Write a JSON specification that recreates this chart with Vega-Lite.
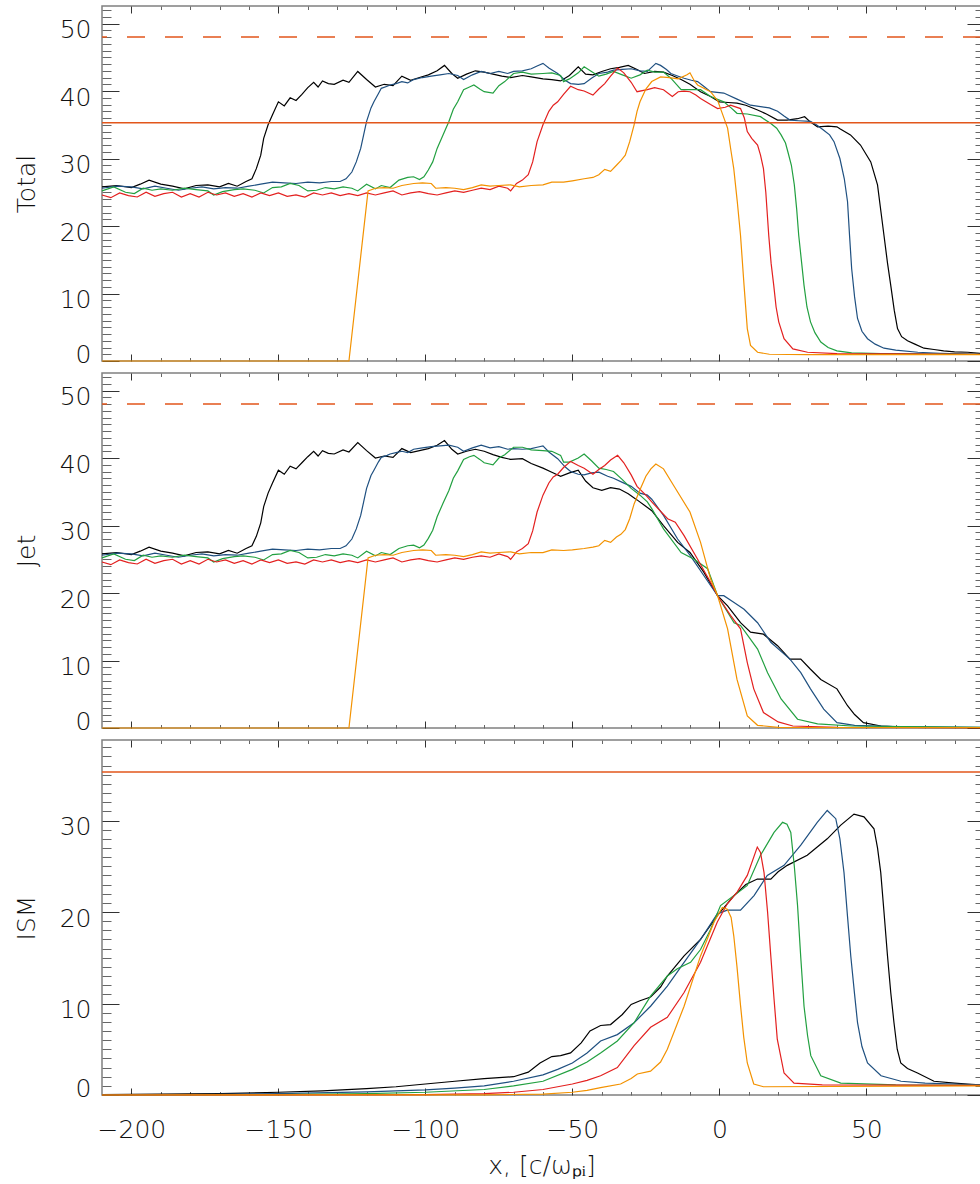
{
"$schema":"https://vega.github.io/schema/vega-lite/v6.json",
"padding":{"left":13,"top":4,"right":0,"bottom":0},
"spacing":12,
"bounds":"flush",
"config":{
 "font":"DejaVu Sans",
 "view":{"stroke":"#808080","strokeWidth":1.5},
 "axis":{"domain":false,"grid":false,"tickColor":"#333333","tickWidth":1,"labelFont":"DejaVu Sans","labelFontSize":25,"labelFontWeight":200,"labelColor":"#111111","titleFont":"DejaVu Sans","titleFontSize":25,"titleFontWeight":200,"titleColor":"#111111"}
},
"datasets":{
"tot_k":[{"x":-210,"y":25.8},{"x":-205,"y":26.0},{"x":-200,"y":25.7},{"x":-197,"y":26.2},{"x":-194,"y":26.8},{"x":-190,"y":26.2},{"x":-186,"y":25.9},{"x":-182,"y":25.5},{"x":-178,"y":26.0},{"x":-174,"y":26.1},{"x":-170,"y":25.8},{"x":-167,"y":26.3},{"x":-164,"y":25.9},{"x":-161,"y":26.6},{"x":-159,"y":27.0},{"x":-157.5,"y":28.5},{"x":-156,"y":30.5},{"x":-155,"y":33.0},{"x":-153.5,"y":35.0},{"x":-152,"y":36.5},{"x":-150,"y":38.4},{"x":-148,"y":37.8},{"x":-146,"y":39.0},{"x":-144,"y":38.6},{"x":-142,"y":39.5},{"x":-140,"y":40.5},{"x":-138,"y":41.3},{"x":-136.5,"y":40.6},{"x":-135,"y":41.5},{"x":-133,"y":41.1},{"x":-131,"y":41.0},{"x":-128,"y":41.6},{"x":-126,"y":41.3},{"x":-123,"y":42.9},{"x":-120,"y":41.7},{"x":-117,"y":40.6},{"x":-114,"y":41.0},{"x":-111,"y":40.8},{"x":-108,"y":42.2},{"x":-105,"y":41.6},{"x":-102,"y":42.0},{"x":-99,"y":42.4},{"x":-96,"y":43.0},{"x":-93.5,"y":43.8},{"x":-91,"y":42.6},{"x":-89,"y":41.9},{"x":-86,"y":42.5},{"x":-83,"y":43.0},{"x":-80,"y":42.8},{"x":-77,"y":42.5},{"x":-74,"y":42.2},{"x":-71,"y":42.0},{"x":-67,"y":42.3},{"x":-64,"y":42.1},{"x":-60,"y":41.8},{"x":-57,"y":41.7},{"x":-54,"y":41.5},{"x":-51,"y":42.3},{"x":-48,"y":43.6},{"x":-45.5,"y":42.5},{"x":-43,"y":42.4},{"x":-40,"y":42.9},{"x":-37,"y":43.3},{"x":-34,"y":43.5},{"x":-31,"y":43.8},{"x":-28,"y":43.2},{"x":-25.5,"y":42.6},{"x":-22,"y":42.9},{"x":-19,"y":42.8},{"x":-16,"y":42.3},{"x":-13,"y":41.7},{"x":-10,"y":41.0},{"x":-6.4,"y":39.9},{"x":-3,"y":39.2},{"x":0,"y":38.4},{"x":3,"y":38.3},{"x":6,"y":38.2},{"x":9,"y":37.9},{"x":13,"y":37.2},{"x":16,"y":36.6},{"x":19.8,"y":35.7},{"x":23,"y":35.7},{"x":26.6,"y":35.9},{"x":29,"y":36.2},{"x":31,"y":35.4},{"x":33.4,"y":34.7},{"x":37,"y":34.8},{"x":40,"y":34.7},{"x":41,"y":34.4},{"x":44.6,"y":33.5},{"x":48,"y":32.0},{"x":51.5,"y":29.5},{"x":53.8,"y":26.1},{"x":55,"y":22.0},{"x":56,"y":18.6},{"x":57.2,"y":14.5},{"x":58.3,"y":11.2},{"x":59.5,"y":7.5},{"x":60.6,"y":4.8},{"x":62,"y":3.6},{"x":64,"y":3.0},{"x":66.5,"y":2.5},{"x":69.6,"y":1.9},{"x":73,"y":1.7},{"x":76.3,"y":1.5},{"x":80,"y":1.35},{"x":84.5,"y":1.3},{"x":89,"y":1.1}],
"tot_b":[{"x":-210,"y":25.6},{"x":-205,"y":25.9},{"x":-200,"y":25.8},{"x":-196,"y":25.5},{"x":-192,"y":25.9},{"x":-188,"y":25.6},{"x":-184,"y":25.3},{"x":-180,"y":25.6},{"x":-176,"y":25.8},{"x":-172,"y":25.5},{"x":-168,"y":25.7},{"x":-164,"y":25.6},{"x":-160,"y":25.9},{"x":-156,"y":26.2},{"x":-152,"y":26.5},{"x":-148,"y":26.4},{"x":-144,"y":26.3},{"x":-140,"y":26.5},{"x":-136,"y":26.4},{"x":-132,"y":26.6},{"x":-129,"y":26.6},{"x":-127,"y":27.0},{"x":-125,"y":28.0},{"x":-123.5,"y":29.5},{"x":-122,"y":31.5},{"x":-121,"y":33.5},{"x":-120,"y":35.5},{"x":-118.5,"y":37.5},{"x":-117.5,"y":38.4},{"x":-116,"y":39.6},{"x":-115,"y":40.4},{"x":-113,"y":40.7},{"x":-112,"y":40.9},{"x":-110,"y":41.1},{"x":-108,"y":41.4},{"x":-106,"y":41.2},{"x":-104,"y":41.7},{"x":-101,"y":42.0},{"x":-98,"y":42.2},{"x":-95,"y":42.4},{"x":-92,"y":42.6},{"x":-89,"y":42.3},{"x":-87,"y":41.7},{"x":-84,"y":42.4},{"x":-81,"y":42.9},{"x":-78,"y":42.6},{"x":-75,"y":42.9},{"x":-72,"y":42.6},{"x":-70,"y":42.9},{"x":-67,"y":43.0},{"x":-64,"y":43.3},{"x":-62,"y":43.7},{"x":-60,"y":44.1},{"x":-58,"y":43.4},{"x":-55,"y":42.6},{"x":-52.5,"y":41.6},{"x":-50.6,"y":41.1},{"x":-48,"y":41.0},{"x":-46,"y":41.1},{"x":-43.5,"y":41.9},{"x":-41,"y":42.6},{"x":-38,"y":42.8},{"x":-36,"y":43.1},{"x":-33,"y":43.2},{"x":-30,"y":43.3},{"x":-27,"y":43.0},{"x":-24.5,"y":42.9},{"x":-21.6,"y":44.1},{"x":-20,"y":43.8},{"x":-18,"y":43.2},{"x":-16.5,"y":42.6},{"x":-14,"y":42.2},{"x":-12,"y":41.9},{"x":-9.5,"y":41.6},{"x":-7.4,"y":41.4},{"x":-5,"y":40.6},{"x":-3,"y":39.9},{"x":1.5,"y":39.7},{"x":6,"y":38.8},{"x":10.6,"y":37.9},{"x":14,"y":37.7},{"x":17,"y":37.5},{"x":19.8,"y":37.0},{"x":22,"y":36.3},{"x":24,"y":35.7},{"x":27,"y":35.6},{"x":31,"y":35.5},{"x":33,"y":35.0},{"x":35.5,"y":34.2},{"x":37.5,"y":33.5},{"x":39,"y":32.5},{"x":41,"y":30.0},{"x":42.5,"y":27.0},{"x":43.6,"y":23.6},{"x":44.3,"y":18.5},{"x":45,"y":13.7},{"x":46,"y":9.5},{"x":47,"y":6.3},{"x":48.5,"y":4.4},{"x":50.4,"y":3.3},{"x":53,"y":2.5},{"x":56,"y":1.9},{"x":60,"y":1.6},{"x":67.5,"y":1.3},{"x":75,"y":1.15},{"x":89,"y":1.0}],
"tot_g":[{"x":-210,"y":25.2},{"x":-206,"y":25.8},{"x":-202,"y":25.0},{"x":-199,"y":24.8},{"x":-196,"y":25.6},{"x":-193,"y":25.3},{"x":-190,"y":25.5},{"x":-186,"y":25.3},{"x":-182,"y":25.6},{"x":-178,"y":25.4},{"x":-174,"y":25.2},{"x":-172,"y":24.6},{"x":-169,"y":25.1},{"x":-165,"y":25.4},{"x":-162,"y":25.5},{"x":-158,"y":25.3},{"x":-155,"y":24.9},{"x":-152,"y":25.7},{"x":-149,"y":25.8},{"x":-146,"y":26.3},{"x":-143,"y":26.0},{"x":-140,"y":25.2},{"x":-137,"y":25.3},{"x":-134,"y":25.7},{"x":-131,"y":25.5},{"x":-128,"y":25.8},{"x":-125,"y":25.6},{"x":-123,"y":25.2},{"x":-120,"y":26.2},{"x":-117,"y":25.5},{"x":-115,"y":26.0},{"x":-112,"y":25.7},{"x":-109,"y":26.8},{"x":-106,"y":27.2},{"x":-104,"y":27.3},{"x":-102,"y":26.9},{"x":-100.5,"y":27.3},{"x":-99,"y":28.3},{"x":-97.5,"y":29.5},{"x":-96,"y":31.5},{"x":-94,"y":33.5},{"x":-92,"y":35.5},{"x":-90.5,"y":37.3},{"x":-89,"y":38.4},{"x":-87,"y":40.2},{"x":-85,"y":40.6},{"x":-83.5,"y":40.9},{"x":-81.5,"y":40.3},{"x":-80,"y":39.9},{"x":-77,"y":39.7},{"x":-75,"y":40.8},{"x":-73,"y":41.4},{"x":-70,"y":42.6},{"x":-67,"y":42.8},{"x":-64,"y":42.5},{"x":-60,"y":42.6},{"x":-57,"y":42.7},{"x":-54,"y":42.3},{"x":-53,"y":41.4},{"x":-51,"y":41.8},{"x":-48,"y":42.7},{"x":-46,"y":43.6},{"x":-43.5,"y":42.9},{"x":-41,"y":42.2},{"x":-38.5,"y":42.5},{"x":-36,"y":42.9},{"x":-33,"y":42.4},{"x":-30,"y":41.9},{"x":-27,"y":42.4},{"x":-24.5,"y":43.1},{"x":-22,"y":42.8},{"x":-19,"y":42.8},{"x":-16.5,"y":41.9},{"x":-13,"y":40.2},{"x":-10,"y":40.2},{"x":-6.4,"y":40.2},{"x":-3,"y":39.2},{"x":1.5,"y":38.4},{"x":4,"y":37.5},{"x":6,"y":36.7},{"x":9.5,"y":36.6},{"x":14,"y":36.2},{"x":17.5,"y":35.2},{"x":19.5,"y":34.5},{"x":21,"y":33.5},{"x":22.5,"y":32.3},{"x":23.3,"y":31.0},{"x":24.5,"y":29.0},{"x":25.5,"y":26.1},{"x":26.3,"y":22.5},{"x":27,"y":18.6},{"x":28,"y":14.5},{"x":28.8,"y":11.2},{"x":29.8,"y":8.0},{"x":31,"y":5.8},{"x":32.5,"y":4.2},{"x":34.5,"y":2.8},{"x":37,"y":2.0},{"x":40,"y":1.5},{"x":45,"y":1.2},{"x":55,"y":1.1},{"x":70,"y":1.05},{"x":89,"y":1.0}],
"tot_r":[{"x":-210,"y":24.6},{"x":-207,"y":24.2},{"x":-204,"y":24.9},{"x":-201,"y":24.5},{"x":-198,"y":24.3},{"x":-195,"y":25.0},{"x":-192,"y":24.4},{"x":-189,"y":24.8},{"x":-186,"y":25.0},{"x":-183,"y":24.3},{"x":-180,"y":24.8},{"x":-177,"y":24.3},{"x":-174,"y":25.0},{"x":-171,"y":24.6},{"x":-168,"y":24.9},{"x":-165,"y":24.4},{"x":-162,"y":24.8},{"x":-159,"y":24.3},{"x":-156,"y":24.9},{"x":-153,"y":24.5},{"x":-150,"y":24.9},{"x":-147,"y":24.4},{"x":-144,"y":24.6},{"x":-141,"y":24.3},{"x":-138,"y":24.9},{"x":-135,"y":24.6},{"x":-132,"y":24.9},{"x":-129,"y":24.5},{"x":-126,"y":24.8},{"x":-123,"y":24.5},{"x":-120,"y":24.9},{"x":-117,"y":24.6},{"x":-114,"y":24.9},{"x":-111,"y":25.2},{"x":-108,"y":24.6},{"x":-105,"y":24.9},{"x":-102,"y":25.1},{"x":-99,"y":24.8},{"x":-96,"y":24.6},{"x":-93,"y":24.9},{"x":-90,"y":25.2},{"x":-87,"y":25.0},{"x":-84,"y":25.3},{"x":-81,"y":25.6},{"x":-78,"y":25.4},{"x":-75,"y":25.9},{"x":-72,"y":25.6},{"x":-71,"y":25.2},{"x":-69,"y":26.3},{"x":-67,"y":26.8},{"x":-65,"y":27.6},{"x":-63.5,"y":29.5},{"x":-62,"y":32.5},{"x":-60,"y":35.0},{"x":-58,"y":37.0},{"x":-56.5,"y":37.9},{"x":-55,"y":38.4},{"x":-53,"y":39.5},{"x":-50.6,"y":40.7},{"x":-48,"y":40.2},{"x":-46,"y":40.0},{"x":-43,"y":39.4},{"x":-41,"y":40.3},{"x":-39,"y":41.1},{"x":-37,"y":42.2},{"x":-34.6,"y":43.4},{"x":-32.5,"y":42.7},{"x":-30,"y":41.3},{"x":-28,"y":39.9},{"x":-24.5,"y":40.2},{"x":-22,"y":40.5},{"x":-19,"y":40.2},{"x":-16,"y":39.2},{"x":-14,"y":39.9},{"x":-12,"y":40.0},{"x":-10,"y":39.9},{"x":-8,"y":39.4},{"x":-6.4,"y":38.9},{"x":-3,"y":38.0},{"x":-0.6,"y":37.4},{"x":2,"y":37.6},{"x":3.8,"y":37.9},{"x":7.2,"y":37.4},{"x":8.5,"y":36.0},{"x":9.5,"y":34.0},{"x":11,"y":33.0},{"x":13,"y":32.0},{"x":14,"y":30.5},{"x":15,"y":28.5},{"x":15.8,"y":25.0},{"x":16.8,"y":18.6},{"x":17.6,"y":14.5},{"x":18.5,"y":11.2},{"x":19.3,"y":8.0},{"x":20.2,"y":5.8},{"x":22,"y":3.3},{"x":25,"y":1.8},{"x":30,"y":1.3},{"x":40,"y":1.1},{"x":60,"y":1.05},{"x":89,"y":1.0}],
"tot_o":[{"x":-210,"y":0},{"x":-126,"y":0},{"x":-119.5,"y":25.2},{"x":-117,"y":25.6},{"x":-114,"y":25.7},{"x":-111,"y":25.6},{"x":-108,"y":26.0},{"x":-104,"y":26.3},{"x":-101,"y":26.4},{"x":-98,"y":26.3},{"x":-96.5,"y":25.6},{"x":-93,"y":25.7},{"x":-90,"y":25.6},{"x":-87,"y":25.4},{"x":-84,"y":25.7},{"x":-81,"y":26.1},{"x":-78,"y":25.9},{"x":-75,"y":26.0},{"x":-71,"y":26.1},{"x":-68,"y":25.8},{"x":-64,"y":26.0},{"x":-60,"y":26.1},{"x":-57,"y":26.5},{"x":-53,"y":26.5},{"x":-50,"y":26.7},{"x":-46,"y":27.0},{"x":-43,"y":27.2},{"x":-41,"y":27.6},{"x":-39,"y":28.4},{"x":-37,"y":28.1},{"x":-35,"y":29.0},{"x":-33.5,"y":29.7},{"x":-32,"y":30.5},{"x":-30.5,"y":32.5},{"x":-29,"y":35.0},{"x":-28,"y":37.0},{"x":-27,"y":38.4},{"x":-25,"y":40.3},{"x":-23,"y":41.4},{"x":-20,"y":42.1},{"x":-17,"y":42.0},{"x":-14,"y":41.8},{"x":-11,"y":42.4},{"x":-10,"y":42.7},{"x":-8.5,"y":41.5},{"x":-7.4,"y":40.9},{"x":-3,"y":39.9},{"x":-0.5,"y":38.5},{"x":0.4,"y":37.4},{"x":2.8,"y":34.5},{"x":4,"y":31.0},{"x":4.9,"y":28.5},{"x":6.1,"y":23.6},{"x":7.2,"y":18.6},{"x":8.4,"y":11.2},{"x":9.5,"y":4.8},{"x":10.6,"y":2.3},{"x":13,"y":1.3},{"x":17,"y":1.0},{"x":30,"y":0.95},{"x":60,"y":0.95},{"x":89,"y":0.95}],
"jet_k":[{"x":-210,"y":25.8},{"x":-205,"y":26.0},{"x":-200,"y":25.7},{"x":-197,"y":26.2},{"x":-194,"y":26.8},{"x":-190,"y":26.2},{"x":-186,"y":25.9},{"x":-182,"y":25.5},{"x":-178,"y":26.0},{"x":-174,"y":26.1},{"x":-170,"y":25.8},{"x":-167,"y":26.3},{"x":-164,"y":25.9},{"x":-161,"y":26.6},{"x":-159,"y":27.0},{"x":-157.5,"y":28.4},{"x":-156,"y":30.4},{"x":-155,"y":32.8},{"x":-153.5,"y":34.8},{"x":-152,"y":36.3},{"x":-150,"y":38.2},{"x":-148,"y":37.6},{"x":-146,"y":38.8},{"x":-144,"y":38.4},{"x":-142,"y":39.3},{"x":-140,"y":40.2},{"x":-138,"y":41.0},{"x":-136.5,"y":40.3},{"x":-135,"y":41.1},{"x":-133,"y":40.7},{"x":-131,"y":40.6},{"x":-128,"y":41.2},{"x":-126,"y":40.9},{"x":-123,"y":42.3},{"x":-120,"y":41.1},{"x":-117,"y":40.0},{"x":-114,"y":40.3},{"x":-111,"y":40.1},{"x":-108,"y":41.4},{"x":-105,"y":40.8},{"x":-102,"y":41.1},{"x":-99,"y":41.4},{"x":-96,"y":41.9},{"x":-93.5,"y":42.6},{"x":-91,"y":41.3},{"x":-89,"y":40.6},{"x":-86,"y":41.0},{"x":-83,"y":41.3},{"x":-80,"y":41.0},{"x":-77,"y":40.5},{"x":-74,"y":40.1},{"x":-71,"y":39.8},{"x":-67,"y":39.9},{"x":-64,"y":39.2},{"x":-60,"y":38.5},{"x":-57,"y":37.9},{"x":-54,"y":37.3},{"x":-51,"y":37.8},{"x":-48,"y":38.2},{"x":-45.5,"y":36.6},{"x":-43,"y":35.6},{"x":-40,"y":35.2},{"x":-37,"y":35.6},{"x":-34,"y":35.4},{"x":-31,"y":34.7},{"x":-28,"y":33.8},{"x":-25.5,"y":33.0},{"x":-23,"y":32.2},{"x":-19,"y":30.0},{"x":-14.2,"y":27.5},{"x":-10,"y":26.0},{"x":-5.3,"y":23.1},{"x":-0.6,"y":19.6},{"x":2.8,"y":18.1},{"x":7.2,"y":15.6},{"x":10.6,"y":14.2},{"x":15,"y":13.9},{"x":19.8,"y":12.2},{"x":24,"y":10.2},{"x":27.7,"y":10.2},{"x":31,"y":8.7},{"x":34.5,"y":7.2},{"x":40,"y":5.8},{"x":43.6,"y":3.3},{"x":46,"y":2.0},{"x":49,"y":0.8},{"x":55,"y":0.3},{"x":65,"y":0.1},{"x":89,"y":0.05}],
"jet_b":[{"x":-210,"y":25.6},{"x":-205,"y":25.9},{"x":-200,"y":25.8},{"x":-196,"y":25.5},{"x":-192,"y":25.9},{"x":-188,"y":25.6},{"x":-184,"y":25.3},{"x":-180,"y":25.6},{"x":-176,"y":25.8},{"x":-172,"y":25.5},{"x":-168,"y":25.7},{"x":-164,"y":25.6},{"x":-160,"y":25.9},{"x":-156,"y":26.2},{"x":-152,"y":26.5},{"x":-148,"y":26.4},{"x":-144,"y":26.3},{"x":-140,"y":26.5},{"x":-136,"y":26.4},{"x":-132,"y":26.6},{"x":-129,"y":26.6},{"x":-127,"y":27.0},{"x":-125,"y":28.0},{"x":-123.5,"y":29.5},{"x":-122,"y":31.5},{"x":-121,"y":33.5},{"x":-120,"y":35.5},{"x":-118.5,"y":37.4},{"x":-117.5,"y":38.2},{"x":-116,"y":39.4},{"x":-115,"y":40.1},{"x":-113,"y":40.4},{"x":-112,"y":40.6},{"x":-110,"y":40.8},{"x":-108,"y":41.0},{"x":-106,"y":40.8},{"x":-104,"y":41.3},{"x":-101,"y":41.5},{"x":-98,"y":41.7},{"x":-95,"y":41.8},{"x":-92,"y":41.9},{"x":-89,"y":41.6},{"x":-87,"y":41.0},{"x":-84,"y":41.5},{"x":-81,"y":41.9},{"x":-78,"y":41.5},{"x":-75,"y":41.7},{"x":-72,"y":41.3},{"x":-70,"y":41.4},{"x":-67,"y":41.3},{"x":-64,"y":41.4},{"x":-62,"y":41.6},{"x":-60,"y":41.8},{"x":-58,"y":40.9},{"x":-55,"y":39.9},{"x":-52.5,"y":38.7},{"x":-50.6,"y":38.0},{"x":-48,"y":37.6},{"x":-46,"y":37.5},{"x":-43.5,"y":37.8},{"x":-41,"y":37.9},{"x":-38,"y":37.3},{"x":-36,"y":37.0},{"x":-33,"y":36.4},{"x":-30,"y":35.8},{"x":-27,"y":34.8},{"x":-24.5,"y":34.5},{"x":-23,"y":33.9},{"x":-19,"y":31.5},{"x":-14.2,"y":28.0},{"x":-10,"y":25.6},{"x":-5.3,"y":22.6},{"x":-0.6,"y":19.6},{"x":1.5,"y":19.6},{"x":5,"y":18.6},{"x":8.4,"y":17.6},{"x":13,"y":15.6},{"x":17.5,"y":12.7},{"x":24,"y":10.2},{"x":27.7,"y":8.2},{"x":31,"y":5.8},{"x":35.5,"y":2.8},{"x":40,"y":0.8},{"x":46,"y":0.4},{"x":60,"y":0.2},{"x":89,"y":0.1}],
"jet_g":[{"x":-210,"y":25.2},{"x":-206,"y":25.8},{"x":-202,"y":25.0},{"x":-199,"y":24.8},{"x":-196,"y":25.6},{"x":-193,"y":25.3},{"x":-190,"y":25.5},{"x":-186,"y":25.3},{"x":-182,"y":25.6},{"x":-178,"y":25.4},{"x":-174,"y":25.2},{"x":-172,"y":24.6},{"x":-169,"y":25.1},{"x":-165,"y":25.4},{"x":-162,"y":25.5},{"x":-158,"y":25.3},{"x":-155,"y":24.9},{"x":-152,"y":25.7},{"x":-149,"y":25.8},{"x":-146,"y":26.3},{"x":-143,"y":26.0},{"x":-140,"y":25.2},{"x":-137,"y":25.3},{"x":-134,"y":25.7},{"x":-131,"y":25.5},{"x":-128,"y":25.8},{"x":-125,"y":25.6},{"x":-123,"y":25.2},{"x":-120,"y":26.2},{"x":-117,"y":25.5},{"x":-115,"y":26.0},{"x":-112,"y":25.7},{"x":-109,"y":26.6},{"x":-106,"y":27.0},{"x":-104,"y":27.1},{"x":-102,"y":26.7},{"x":-100.5,"y":27.1},{"x":-99,"y":28.1},{"x":-97.5,"y":29.3},{"x":-96,"y":31.3},{"x":-94,"y":33.3},{"x":-92,"y":35.2},{"x":-90.5,"y":37.0},{"x":-89,"y":38.1},{"x":-87,"y":39.8},{"x":-85,"y":40.2},{"x":-83.5,"y":40.4},{"x":-81.5,"y":39.8},{"x":-80,"y":39.3},{"x":-77,"y":39.0},{"x":-75,"y":40.0},{"x":-73,"y":40.5},{"x":-70,"y":41.6},{"x":-67,"y":41.6},{"x":-64,"y":41.2},{"x":-60,"y":41.1},{"x":-57,"y":41.0},{"x":-54,"y":40.4},{"x":-53,"y":39.4},{"x":-51,"y":39.4},{"x":-48,"y":40.0},{"x":-46,"y":40.6},{"x":-43.5,"y":39.6},{"x":-41,"y":38.5},{"x":-38.5,"y":38.3},{"x":-36,"y":38.0},{"x":-33,"y":36.8},{"x":-30,"y":35.5},{"x":-27,"y":34.5},{"x":-24.5,"y":33.5},{"x":-23,"y":32.5},{"x":-19,"y":29.5},{"x":-13,"y":26.0},{"x":-8.6,"y":25.0},{"x":-4,"y":23.6},{"x":-0.6,"y":19.6},{"x":5,"y":15.6},{"x":7.2,"y":15.2},{"x":13,"y":11.7},{"x":16.4,"y":8.2},{"x":21,"y":4.3},{"x":26.6,"y":1.3},{"x":33.4,"y":0.6},{"x":45,"y":0.3},{"x":89,"y":0.1}],
"jet_r":[{"x":-210,"y":24.6},{"x":-207,"y":24.2},{"x":-204,"y":24.9},{"x":-201,"y":24.5},{"x":-198,"y":24.3},{"x":-195,"y":25.0},{"x":-192,"y":24.4},{"x":-189,"y":24.8},{"x":-186,"y":25.0},{"x":-183,"y":24.3},{"x":-180,"y":24.8},{"x":-177,"y":24.3},{"x":-174,"y":25.0},{"x":-171,"y":24.6},{"x":-168,"y":24.9},{"x":-165,"y":24.4},{"x":-162,"y":24.8},{"x":-159,"y":24.3},{"x":-156,"y":24.9},{"x":-153,"y":24.5},{"x":-150,"y":24.9},{"x":-147,"y":24.4},{"x":-144,"y":24.6},{"x":-141,"y":24.3},{"x":-138,"y":24.9},{"x":-135,"y":24.6},{"x":-132,"y":24.9},{"x":-129,"y":24.5},{"x":-126,"y":24.8},{"x":-123,"y":24.5},{"x":-120,"y":24.9},{"x":-117,"y":24.6},{"x":-114,"y":24.9},{"x":-111,"y":25.2},{"x":-108,"y":24.6},{"x":-105,"y":24.9},{"x":-102,"y":25.1},{"x":-99,"y":24.8},{"x":-96,"y":24.6},{"x":-93,"y":24.9},{"x":-90,"y":25.2},{"x":-87,"y":25.0},{"x":-84,"y":25.3},{"x":-81,"y":25.5},{"x":-78,"y":25.3},{"x":-75,"y":25.8},{"x":-72,"y":25.4},{"x":-71,"y":25.0},{"x":-69,"y":26.1},{"x":-67,"y":26.6},{"x":-65,"y":27.3},{"x":-63.5,"y":29.2},{"x":-62,"y":32.0},{"x":-60,"y":34.5},{"x":-58,"y":36.3},{"x":-56.5,"y":37.2},{"x":-55,"y":37.6},{"x":-53,"y":38.6},{"x":-50.6,"y":39.5},{"x":-48,"y":38.9},{"x":-46,"y":38.5},{"x":-43,"y":37.6},{"x":-41,"y":38.3},{"x":-39,"y":38.9},{"x":-37,"y":39.7},{"x":-34.6,"y":40.4},{"x":-32.5,"y":39.3},{"x":-30,"y":37.5},{"x":-28,"y":35.8},{"x":-25,"y":34.5},{"x":-23,"y":33.5},{"x":-17.6,"y":31.0},{"x":-15,"y":30.5},{"x":-12,"y":28.5},{"x":-7.4,"y":25.0},{"x":-3,"y":21.6},{"x":-0.6,"y":19.6},{"x":3.8,"y":16.7},{"x":7.2,"y":14.7},{"x":9.5,"y":9.7},{"x":11.7,"y":5.8},{"x":15,"y":2.3},{"x":20,"y":0.9},{"x":25,"y":0.3},{"x":40,"y":0.1},{"x":89,"y":0.05}],
"jet_o":[{"x":-210,"y":0},{"x":-126,"y":0},{"x":-119.5,"y":25.2},{"x":-117,"y":25.6},{"x":-114,"y":25.7},{"x":-111,"y":25.6},{"x":-108,"y":26.0},{"x":-104,"y":26.3},{"x":-101,"y":26.4},{"x":-98,"y":26.3},{"x":-96.5,"y":25.6},{"x":-93,"y":25.7},{"x":-90,"y":25.6},{"x":-87,"y":25.4},{"x":-84,"y":25.7},{"x":-81,"y":26.1},{"x":-78,"y":25.9},{"x":-75,"y":26.0},{"x":-71,"y":26.1},{"x":-68,"y":25.8},{"x":-64,"y":26.0},{"x":-60,"y":26.0},{"x":-57,"y":26.4},{"x":-53,"y":26.3},{"x":-50,"y":26.4},{"x":-46,"y":26.6},{"x":-43,"y":26.8},{"x":-41,"y":27.0},{"x":-39,"y":27.8},{"x":-37,"y":27.5},{"x":-35,"y":28.3},{"x":-33.5,"y":28.7},{"x":-32,"y":29.4},{"x":-30.5,"y":31.0},{"x":-29,"y":33.2},{"x":-27,"y":35.3},{"x":-25,"y":37.3},{"x":-23.3,"y":38.4},{"x":-21.6,"y":39.1},{"x":-19,"y":38.4},{"x":-15.5,"y":35.9},{"x":-10,"y":32.0},{"x":-6.4,"y":27.5},{"x":-3,"y":22.1},{"x":-0.6,"y":19.6},{"x":2.8,"y":14.7},{"x":6,"y":7.2},{"x":9.5,"y":1.8},{"x":13,"y":0.4},{"x":20,"y":0.1},{"x":89,"y":0.05}],
"ism_k":[{"x":-210,"y":0.05},{"x":-190,"y":0.1},{"x":-170,"y":0.15},{"x":-150,"y":0.3},{"x":-135,"y":0.45},{"x":-120,"y":0.7},{"x":-110,"y":0.9},{"x":-100,"y":1.2},{"x":-90,"y":1.5},{"x":-80,"y":1.8},{"x":-70,"y":2.0},{"x":-65,"y":2.5},{"x":-61,"y":3.5},{"x":-57,"y":4.2},{"x":-54,"y":4.3},{"x":-50.6,"y":4.6},{"x":-47,"y":5.7},{"x":-44,"y":7.0},{"x":-40.4,"y":7.6},{"x":-37,"y":7.7},{"x":-33,"y":8.8},{"x":-30,"y":9.9},{"x":-27,"y":10.3},{"x":-23.4,"y":10.7},{"x":-20,"y":11.8},{"x":-17.7,"y":13.0},{"x":-12,"y":15.2},{"x":-6.4,"y":17.0},{"x":-0.7,"y":19.6},{"x":5,"y":21.8},{"x":9,"y":23.0},{"x":12.9,"y":23.6},{"x":17.5,"y":23.6},{"x":20,"y":24.4},{"x":23.1,"y":25.1},{"x":29.9,"y":26.2},{"x":36.7,"y":28.0},{"x":41.3,"y":29.5},{"x":45.8,"y":30.7},{"x":49.2,"y":30.4},{"x":52.6,"y":29.1},{"x":53.8,"y":27.0},{"x":54.9,"y":24.3},{"x":56,"y":20.0},{"x":57.2,"y":15.2},{"x":58.3,"y":11.2},{"x":59.4,"y":7.9},{"x":60.5,"y":5.0},{"x":61.7,"y":3.5},{"x":64,"y":2.9},{"x":67.4,"y":2.4},{"x":73,"y":1.5},{"x":80,"y":1.3},{"x":84.4,"y":1.2},{"x":89,"y":1.1}],
"ism_b":[{"x":-210,"y":0.02},{"x":-180,"y":0.05},{"x":-150,"y":0.15},{"x":-120,"y":0.35},{"x":-100,"y":0.55},{"x":-90,"y":0.75},{"x":-80,"y":1.0},{"x":-70,"y":1.5},{"x":-60,"y":2.2},{"x":-55,"y":2.8},{"x":-50,"y":3.5},{"x":-45,"y":4.6},{"x":-40.4,"y":5.9},{"x":-34.7,"y":6.6},{"x":-29,"y":7.9},{"x":-23.4,"y":9.7},{"x":-17.7,"y":11.9},{"x":-12,"y":14.5},{"x":-6.4,"y":17.0},{"x":-0.7,"y":19.8},{"x":2.7,"y":20.2},{"x":7.2,"y":20.2},{"x":11.8,"y":21.8},{"x":16.3,"y":24.0},{"x":22,"y":25.1},{"x":27.7,"y":27.3},{"x":33.3,"y":29.8},{"x":36.7,"y":31.1},{"x":39.6,"y":30.2},{"x":41,"y":28.0},{"x":42.4,"y":24.3},{"x":43.6,"y":19.5},{"x":44.7,"y":15.2},{"x":46,"y":11.0},{"x":47,"y":7.9},{"x":48.5,"y":5.3},{"x":50.4,"y":3.5},{"x":55,"y":2.1},{"x":61.8,"y":1.5},{"x":70,"y":1.3},{"x":80,"y":1.2},{"x":89,"y":1.1}],
"ism_g":[{"x":-210,"y":0.0},{"x":-150,"y":0.05},{"x":-120,"y":0.15},{"x":-100,"y":0.3},{"x":-80,"y":0.6},{"x":-70,"y":1.0},{"x":-60,"y":1.5},{"x":-50,"y":2.8},{"x":-45,"y":3.6},{"x":-40.4,"y":4.6},{"x":-34.7,"y":5.9},{"x":-29,"y":7.9},{"x":-23.4,"y":10.8},{"x":-17.7,"y":13.0},{"x":-14.3,"y":13.8},{"x":-9.8,"y":14.5},{"x":-6.4,"y":15.9},{"x":-3,"y":18.1},{"x":0.4,"y":20.7},{"x":5,"y":21.8},{"x":9.5,"y":22.9},{"x":14,"y":26.2},{"x":18.6,"y":28.7},{"x":21.5,"y":29.8},{"x":23,"y":29.6},{"x":24.3,"y":28.7},{"x":25.5,"y":25.0},{"x":26.6,"y":20.7},{"x":27.7,"y":15.0},{"x":28.8,"y":9.7},{"x":30,"y":6.5},{"x":31.1,"y":4.3},{"x":34.5,"y":2.1},{"x":41.3,"y":1.3},{"x":60,"y":1.1},{"x":89,"y":1.05}],
"ism_r":[{"x":-210,"y":0.0},{"x":-100,"y":0.05},{"x":-80,"y":0.15},{"x":-70,"y":0.3},{"x":-60,"y":0.6},{"x":-50,"y":1.2},{"x":-45,"y":1.6},{"x":-40.4,"y":2.1},{"x":-34.7,"y":3.0},{"x":-29,"y":5.4},{"x":-23.4,"y":7.4},{"x":-17.7,"y":8.5},{"x":-12,"y":11.2},{"x":-6.4,"y":14.5},{"x":-0.7,"y":18.9},{"x":2.7,"y":20.9},{"x":6.1,"y":22.2},{"x":9.5,"y":24.0},{"x":12.9,"y":27.1},{"x":14,"y":26.5},{"x":15.2,"y":24.3},{"x":16.4,"y":20.0},{"x":17.5,"y":15.2},{"x":18.6,"y":10.5},{"x":19.7,"y":6.1},{"x":22,"y":2.4},{"x":25.4,"y":1.3},{"x":35,"y":1.1},{"x":89,"y":1.05}],
"ism_o":[{"x":-210,"y":0.0},{"x":-80,"y":0.02},{"x":-60,"y":0.1},{"x":-50,"y":0.3},{"x":-45,"y":0.5},{"x":-40.4,"y":0.8},{"x":-33.6,"y":1.2},{"x":-30,"y":1.8},{"x":-27.9,"y":2.3},{"x":-23.4,"y":2.6},{"x":-20,"y":3.6},{"x":-17.7,"y":5.0},{"x":-12,"y":9.7},{"x":-6.4,"y":15.2},{"x":-1.8,"y":18.9},{"x":1,"y":20.5},{"x":2.7,"y":20.3},{"x":4,"y":19.4},{"x":4.9,"y":17.4},{"x":6,"y":14.0},{"x":7.2,"y":9.8},{"x":8.3,"y":6.3},{"x":9.5,"y":3.5},{"x":11.7,"y":1.2},{"x":15,"y":0.9},{"x":89,"y":1.0}]
},
"vconcat":[
{
 "width":879,"height":355,
 "resolve":{"axis":{"x":"independent","y":"independent"}},
 "layer":[
  {"data":{"name":"tot_k"},"mark":{"type":"line","color":"#000000","strokeWidth":1.2},
   "encoding":{
    "x":{"field":"x","type":"quantitative","scale":{"domain":[-210,89],"nice":false,"zero":false},"axis":{"orient":"bottom","values":[-200,-150,-100,-50,0,50],"tickSize":-7,"labels":false,"title":null}},
    "y":{"field":"y","type":"quantitative","scale":{"domain":[0,52.6],"nice":false},"axis":{"orient":"left","values":[0,10,20,30,40,50],"tickSize":-17,"labels":false,"title":null}}}},
  {"data":{"name":"tot_b"},"mark":{"type":"line","color":"#1f5080","strokeWidth":1.2},
   "encoding":{
    "x":{"field":"x","type":"quantitative","axis":{"orient":"top","values":[-200,-150,-100,-50,0,50],"tickSize":-7,"labels":false,"title":null}},
    "y":{"field":"y","type":"quantitative","axis":{"orient":"right","values":[0,10,20,30,40,50],"tickSize":-14,"labels":false,"title":null}}}},
  {"data":{"name":"tot_g"},"mark":{"type":"line","color":"#22a040","strokeWidth":1.2},
   "encoding":{
    "x":{"field":"x","type":"quantitative","axis":{"orient":"bottom","values":[-190,-180,-170,-160,-140,-130,-120,-110,-90,-80,-70,-60,-40,-30,-20,-10,10,20,30,40,60,70,80],"tickSize":-3.5,"tickColor":"#666666","labels":false,"title":null}},
    "y":{"field":"y","type":"quantitative","axis":{"orient":"left","values":[1,2,3,4,5,6,7,8,9,11,12,13,14,15,16,17,18,19,21,22,23,24,25,26,27,28,29,31,32,33,34,35,36,37,38,39,41,42,43,44,45,46,47,48,49,51,52],"tickSize":-9,"tickColor":"#666666","labels":false,"title":null}}}},
  {"data":{"name":"tot_r"},"mark":{"type":"line","color":"#e3201f","strokeWidth":1.2},
   "encoding":{
    "x":{"field":"x","type":"quantitative","axis":{"orient":"top","values":[-190,-180,-170,-160,-140,-130,-120,-110,-90,-80,-70,-60,-40,-30,-20,-10,10,20,30,40,60,70,80],"tickSize":-3.5,"tickColor":"#666666","labels":false,"title":null}},
    "y":{"field":"y","type":"quantitative","axis":{"orient":"right","values":[1,2,3,4,5,6,7,8,9,11,12,13,14,15,16,17,18,19,21,22,23,24,25,26,27,28,29,31,32,33,34,35,36,37,38,39,41,42,43,44,45,46,47,48,49,51,52],"tickSize":-6,"tickColor":"#666666","labels":false,"title":null}}}},
  {"data":{"name":"tot_o"},"mark":{"type":"line","color":"#f39200","strokeWidth":1.2},
   "encoding":{"x":{"field":"x","type":"quantitative","axis":null},
    "y":{"field":"y","type":"quantitative","axis":{"orient":"left","values":[0,10,20,30,40,50],"ticks":false,"labelPadding":11,"labelFlush":true,"labelOffset":6,"title":"Total","titlePadding":20}}}},
  {"data":{"values":[{"v":48,"kind":"dashed"}]},"mark":{"type":"rule","color":"#e2561b","strokeWidth":1.5,"strokeDash":[18,20]},
   "encoding":{"y":{"field":"v","type":"quantitative","axis":null}}},
  {"data":{"values":[{"v":35.3,"kind":"solid"}]},"mark":{"type":"rule","color":"#e2561b","strokeWidth":1.5},
   "encoding":{"y":{"field":"v","type":"quantitative","axis":null}}}
 ]
},
{
 "width":879,"height":355,
 "resolve":{"axis":{"x":"independent","y":"independent"}},
 "layer":[
  {"data":{"name":"jet_k"},"mark":{"type":"line","color":"#000000","strokeWidth":1.2},
   "encoding":{
    "x":{"field":"x","type":"quantitative","scale":{"domain":[-210,89],"nice":false,"zero":false},"axis":{"orient":"bottom","values":[-200,-150,-100,-50,0,50],"tickSize":-7,"labels":false,"title":null}},
    "y":{"field":"y","type":"quantitative","scale":{"domain":[0,52.6],"nice":false},"axis":{"orient":"left","values":[0,10,20,30,40,50],"tickSize":-17,"labels":false,"title":null}}}},
  {"data":{"name":"jet_b"},"mark":{"type":"line","color":"#1f5080","strokeWidth":1.2},
   "encoding":{
    "x":{"field":"x","type":"quantitative","axis":{"orient":"top","values":[-200,-150,-100,-50,0,50],"tickSize":-7,"labels":false,"title":null}},
    "y":{"field":"y","type":"quantitative","axis":{"orient":"right","values":[0,10,20,30,40,50],"tickSize":-14,"labels":false,"title":null}}}},
  {"data":{"name":"jet_g"},"mark":{"type":"line","color":"#22a040","strokeWidth":1.2},
   "encoding":{
    "x":{"field":"x","type":"quantitative","axis":{"orient":"bottom","values":[-190,-180,-170,-160,-140,-130,-120,-110,-90,-80,-70,-60,-40,-30,-20,-10,10,20,30,40,60,70,80],"tickSize":-3.5,"tickColor":"#666666","labels":false,"title":null}},
    "y":{"field":"y","type":"quantitative","axis":{"orient":"left","values":[1,2,3,4,5,6,7,8,9,11,12,13,14,15,16,17,18,19,21,22,23,24,25,26,27,28,29,31,32,33,34,35,36,37,38,39,41,42,43,44,45,46,47,48,49,51,52],"tickSize":-9,"tickColor":"#666666","labels":false,"title":null}}}},
  {"data":{"name":"jet_r"},"mark":{"type":"line","color":"#e3201f","strokeWidth":1.2},
   "encoding":{
    "x":{"field":"x","type":"quantitative","axis":{"orient":"top","values":[-190,-180,-170,-160,-140,-130,-120,-110,-90,-80,-70,-60,-40,-30,-20,-10,10,20,30,40,60,70,80],"tickSize":-3.5,"tickColor":"#666666","labels":false,"title":null}},
    "y":{"field":"y","type":"quantitative","axis":{"orient":"right","values":[1,2,3,4,5,6,7,8,9,11,12,13,14,15,16,17,18,19,21,22,23,24,25,26,27,28,29,31,32,33,34,35,36,37,38,39,41,42,43,44,45,46,47,48,49,51,52],"tickSize":-6,"tickColor":"#666666","labels":false,"title":null}}}},
  {"data":{"name":"jet_o"},"mark":{"type":"line","color":"#f39200","strokeWidth":1.2},
   "encoding":{"x":{"field":"x","type":"quantitative","axis":null},
    "y":{"field":"y","type":"quantitative","axis":{"orient":"left","values":[0,10,20,30,40,50],"ticks":false,"labelPadding":11,"labelFlush":true,"labelOffset":6,"title":"Jet","titlePadding":20}}}},
  {"data":{"values":[{"v":48,"kind":"dashed"}]},"mark":{"type":"rule","color":"#e2561b","strokeWidth":1.5,"strokeDash":[18,20]},
   "encoding":{"y":{"field":"v","type":"quantitative","axis":null}}}
 ]
},
{
 "width":879,"height":355,
 "resolve":{"axis":{"x":"independent","y":"independent"}},
 "layer":[
  {"data":{"name":"ism_k"},"mark":{"type":"line","color":"#000000","strokeWidth":1.2},
   "encoding":{
    "x":{"field":"x","type":"quantitative","scale":{"domain":[-210,89],"nice":false,"zero":false},"axis":{"orient":"bottom","values":[-200,-150,-100,-50,0,50],"tickSize":-7,"labels":false,"title":null}},
    "y":{"field":"y","type":"quantitative","scale":{"domain":[0,38.8],"nice":false},"axis":{"orient":"left","values":[0,10,20,30],"tickSize":-17,"labels":false,"title":null}}}},
  {"data":{"name":"ism_b"},"mark":{"type":"line","color":"#1f5080","strokeWidth":1.2},
   "encoding":{
    "x":{"field":"x","type":"quantitative","axis":{"orient":"top","values":[-200,-150,-100,-50,0,50],"tickSize":-7,"labels":false,"title":null}},
    "y":{"field":"y","type":"quantitative","axis":{"orient":"right","values":[0,10,20,30],"tickSize":-14,"labels":false,"title":null}}}},
  {"data":{"name":"ism_g"},"mark":{"type":"line","color":"#22a040","strokeWidth":1.2},
   "encoding":{
    "x":{"field":"x","type":"quantitative","axis":{"orient":"bottom","values":[-190,-180,-170,-160,-140,-130,-120,-110,-90,-80,-70,-60,-40,-30,-20,-10,10,20,30,40,60,70,80],"tickSize":-3.5,"tickColor":"#666666","labels":false,"title":null}},
    "y":{"field":"y","type":"quantitative","axis":{"orient":"left","values":[1,2,3,4,5,6,7,8,9,11,12,13,14,15,16,17,18,19,21,22,23,24,25,26,27,28,29,31,32,33,34,35,36,37,38],"tickSize":-9,"tickColor":"#666666","labels":false,"title":null}}}},
  {"data":{"name":"ism_r"},"mark":{"type":"line","color":"#e3201f","strokeWidth":1.2},
   "encoding":{
    "x":{"field":"x","type":"quantitative","axis":{"orient":"top","values":[-190,-180,-170,-160,-140,-130,-120,-110,-90,-80,-70,-60,-40,-30,-20,-10,10,20,30,40,60,70,80],"tickSize":-3.5,"tickColor":"#666666","labels":false,"title":null}},
    "y":{"field":"y","type":"quantitative","axis":{"orient":"right","values":[1,2,3,4,5,6,7,8,9,11,12,13,14,15,16,17,18,19,21,22,23,24,25,26,27,28,29,31,32,33,34,35,36,37,38],"tickSize":-6,"tickColor":"#666666","labels":false,"title":null}}}},
  {"data":{"name":"ism_o"},"mark":{"type":"line","color":"#f39200","strokeWidth":1.2},
   "encoding":{
    "x":{"field":"x","type":"quantitative","axis":{"orient":"bottom","values":[-200,-150,-100,-50,0,50],"ticks":false,"labelPadding":22,"labelFlush":false,"title":"x, [c/ωₚᵢ]","titlePadding":11}},
    "y":{"field":"y","type":"quantitative","axis":{"orient":"left","values":[0,10,20,30],"ticks":false,"labelPadding":11,"labelFlush":true,"labelOffset":6,"title":"ISM","titlePadding":20}}}},
  {"data":{"values":[{"v":35.3,"kind":"solid"}]},"mark":{"type":"rule","color":"#e2561b","strokeWidth":1.5},
   "encoding":{"y":{"field":"v","type":"quantitative","axis":null}}}
 ]
}
]
}
